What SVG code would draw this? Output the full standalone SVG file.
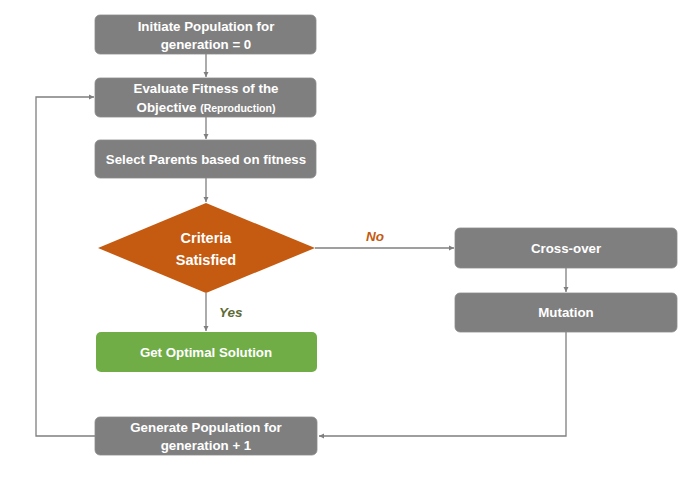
<svg xmlns="http://www.w3.org/2000/svg" width="687" height="479" viewBox="0 0 687 479">
<style>
.box{fill:#7f7f7f;stroke:#8a8a8a;stroke-width:0.8}
.t{font-family:"Liberation Sans",Arial,sans-serif;font-weight:bold;font-size:13.3px;fill:#ffffff;text-anchor:middle}
.d{font-size:14.5px}
.s{font-size:10.5px}
.c{fill:none;stroke:#7f7f7f;stroke-width:1.3}
.lbl{font-family:"Liberation Sans",Arial,sans-serif;font-weight:bold;font-style:italic;font-size:13.5px}
</style>
<defs>
<marker id="ah" markerWidth="6" markerHeight="6" refX="5" refY="3" orient="auto" markerUnits="userSpaceOnUse">
<path d="M0,0.5 L5,3 L0,5.5 Z" fill="#7f7f7f"/>
</marker>
</defs>
<rect width="687" height="479" fill="#ffffff"/>
<g id="connectors">
<line class="c" x1="206" y1="54" x2="206" y2="77" marker-end="url(#ah)"/>
<line class="c" x1="206" y1="117" x2="206" y2="139" marker-end="url(#ah)"/>
<line class="c" x1="206" y1="178" x2="206" y2="202" marker-end="url(#ah)"/>
<line class="c" x1="206" y1="293" x2="206" y2="331" marker-end="url(#ah)"/>
<line class="c" x1="315" y1="248" x2="454" y2="248" marker-end="url(#ah)"/>
<line class="c" x1="566" y1="268" x2="566" y2="292" marker-end="url(#ah)"/>
<polyline class="c" points="566,332 566,436 319,436" marker-end="url(#ah)"/>
<polyline class="c" points="95,436 36,436 36,97 94,97" marker-end="url(#ah)"/>
<text class="lbl" x="366" y="241" fill="#c55a11">No</text>
<text class="lbl" x="219" y="317" fill="#5e6b36">Yes</text>
</g>
<g id="init">
<rect class="box" x="95" y="15" width="221" height="39" rx="5"/>
<text class="t" x="206" y="31">Initiate Population for</text>
<text class="t" x="206" y="49">generation = 0</text>
</g>
<g id="evaluate">
<rect class="box" x="95" y="78" width="221" height="39" rx="5"/>
<text class="t" x="206" y="93">Evaluate Fitness of the</text>
<text class="t" x="206" y="112">Objective <tspan class="s">(Reproduction)</tspan></text>
</g>
<g id="select">
<rect class="box" x="95" y="140" width="221" height="38" rx="5"/>
<text class="t" x="206" y="164">Select Parents based on fitness</text>
</g>
<g id="criteria">
<polygon points="206,203 315,248 206,293 98,248" fill="#c55a11"/>
<text class="t d" x="206" y="243">Criteria</text>
<text class="t d" x="206" y="265">Satisfied</text>
</g>
<g id="optimal">
<rect x="96" y="332" width="221" height="40" rx="5" fill="#70ad47"/>
<text class="t" x="206" y="357">Get Optimal Solution</text>
</g>
<g id="crossover">
<rect class="box" x="455" y="228" width="222" height="40" rx="5"/>
<text class="t" x="566" y="253">Cross-over</text>
</g>
<g id="mutation">
<rect class="box" x="455" y="293" width="222" height="39" rx="5"/>
<text class="t" x="566" y="317">Mutation</text>
</g>
<g id="generate">
<rect class="box" x="95" y="417" width="222" height="38" rx="5"/>
<text class="t" x="206" y="432">Generate Population for</text>
<text class="t" x="206" y="450">generation + 1</text>
</g>
</svg>
